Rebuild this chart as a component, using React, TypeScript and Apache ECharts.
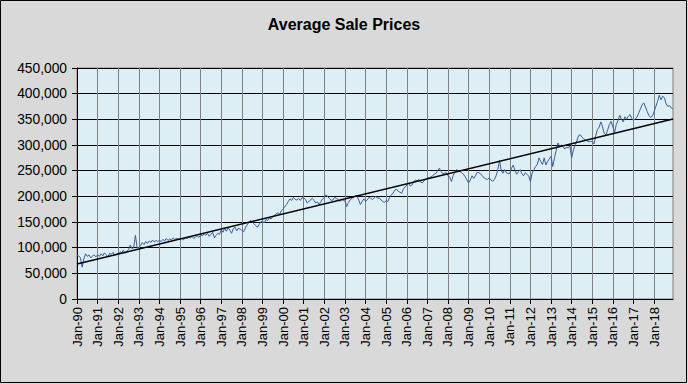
import React, { useEffect, useRef } from "react";
import * as echarts from "echarts";

const TITLE = "Average Sale Prices";
const MONTH_NAMES = ["Jan", "Feb", "Mar", "Apr", "May", "Jun", "Jul", "Aug", "Sep", "Oct", "Nov", "Dec"];
const START_YEAR = 1990;
const YEAR_COUNT = 29;

// Monthly average sale prices, in thousands
const prices1990s = [
  85, 84, 80, 62, 78, 88, 83, 86, 80, 84, 86, 82,
  86, 83, 88, 84, 90, 86, 82, 89, 87, 91, 85, 88,
  88, 92, 90, 95, 89, 93, 96, 105, 98, 100, 124, 100,
  100, 104, 110, 106, 112, 108, 113, 110, 115, 111, 114, 112,
  114, 112, 116, 113, 118, 114, 117, 115, 119, 116, 118, 117,
  116, 118, 115, 120, 117, 121, 119, 122, 118, 121, 123, 120,
  125, 123, 127, 124, 128, 122, 126, 130, 119, 124, 128, 126,
  135, 130, 138, 132, 139, 134, 128, 137, 140, 133, 138, 136,
  134, 131, 138, 144, 149, 153, 150, 147, 143, 140, 145, 150,
  152, 148, 155, 153, 158, 156, 160, 163, 166, 168, 165, 172,
];
const prices2000s = [
  175, 180, 184, 190, 195, 192, 198, 194, 193, 196, 192, 197,
  197, 194, 187, 190, 193, 196, 192, 187, 189, 184, 190, 195,
  198, 203, 199, 196, 192, 193, 198, 196, 194, 190, 195, 192,
  191, 180, 188, 193, 196, 198, 201, 201, 193, 184, 190, 195,
  190, 193, 198, 196, 194, 197, 200, 196, 197, 193, 190, 188,
  192, 190, 198, 203, 206, 212, 214, 210, 208, 206, 214, 218,
  222, 226, 220, 222, 228, 232, 230, 233, 228, 226, 230, 233,
  236, 236, 238, 240, 243, 245, 250, 255, 248, 244, 245, 246,
  240, 238, 229, 240, 248, 252, 250, 248, 246, 243, 238, 232,
  226, 232, 240, 235, 240, 247, 246, 244, 240, 236, 234, 233,
];
const prices2010s = [
  236, 232, 229, 233, 240, 252, 270, 250, 245, 252, 246, 244,
  245, 255, 261, 250, 243, 248, 252, 244, 240, 246, 243, 239,
  229, 245, 252, 258, 262, 275, 268, 262, 275, 261, 268, 273,
  278, 258, 275, 290, 304, 298, 300, 297, 292, 296, 294, 298,
  275, 290, 300, 308, 318, 320, 315, 312, 310, 308, 306, 307,
  307, 302, 318, 330, 335, 345, 335, 322, 320, 330, 340, 346,
  335, 325, 340, 348, 358, 350, 345, 355, 350, 356, 359, 352,
  348, 351, 354, 362, 370, 378, 382, 374, 365, 357, 354, 356,
  365, 375, 385, 397, 388, 395, 392, 380, 375, 377, 372, 370,
];

const TREND_START = 68000;
const TREND_END = 350500;

const Y_MIN = 0;
const Y_MAX = 450000;
const Y_STEP = 50000;

const FONT = "'Liberation Sans', Arial, sans-serif";

export default function App() {
  const ref = useRef<HTMLDivElement>(null);

  useEffect(() => {
    document.body.style.margin = "0";
    if (!ref.current) return;
    const chart = echarts.init(ref.current, null, { renderer: "svg" });

    const categories: string[] = [];
    for (let y = 0; y < YEAR_COUNT; y++) {
      for (let m = 0; m < 12; m++) {
        const yy = String((START_YEAR + y) % 100).padStart(2, "0");
        categories.push(`${MONTH_NAMES[m]}-${yy}`);
      }
    }
    const values = [...prices1990s, ...prices2000s, ...prices2010s].map((v) => v * 1000);

    chart.setOption({
      animation: false,
      backgroundColor: "#D9D9D9",
      title: {
        text: TITLE,
        left: "center",
        top: 11,
        textStyle: { fontFamily: FONT, fontSize: 16, fontWeight: "bold", color: "#000" },
      },
      graphic: [
        {
          type: "rect",
          shape: { x: 0.5, y: 0.5, width: 686, height: 382 },
          style: { fill: "none", stroke: "#000", lineWidth: 1 },
          silent: true,
        },
      ],
      grid: {
        left: 77,
        top: 68,
        width: 596,
        height: 231,
        show: true,
        backgroundColor: "#DDEEF5",
        borderColor: "#808080",
        borderWidth: 1,
      },
      xAxis: {
        type: "category",
        data: categories,
        boundaryGap: false,
        axisLine: { show: true, lineStyle: { color: "#000", width: 1 } },
        axisTick: { show: true, interval: 11, length: 5, lineStyle: { color: "#000" } },
        axisLabel: {
          interval: 11,
          rotate: 90,
          margin: 8,
          fontSize: 13,
          color: "#000",
          fontFamily: FONT,
        },
        splitLine: { show: true, interval: 11, lineStyle: { color: "#808080", width: 1 } },
      },
      yAxis: {
        type: "value",
        min: Y_MIN,
        max: Y_MAX,
        interval: Y_STEP,
        axisLine: { show: true, lineStyle: { color: "#000", width: 1 } },
        axisTick: { show: true, length: 5, lineStyle: { color: "#000" } },
        axisLabel: {
          margin: 10,
          fontSize: 13.8,
          color: "#000",
          fontFamily: FONT,
          formatter: (v: number) => v.toLocaleString("en-US"),
        },
        splitLine: { show: true, lineStyle: { color: "#000", width: 1 } },
      },
      series: [
        {
          type: "line",
          data: values,
          symbol: "none",
          lineStyle: { color: "#3C5D98", width: 1 },
          markLine: {
            silent: true,
            symbol: ["none", "none"],
            label: { show: false },
            lineStyle: { color: "#000", width: 1.5, type: "solid" },
            data: [
              [
                { coord: [categories[0], TREND_START] },
                { coord: [categories[categories.length - 1], TREND_END] },
              ],
            ],
          },
        },
      ],
    });

    return () => chart.dispose();
  }, []);

  return (
    <div
      ref={ref}
      style={{ position: "absolute", left: 0, top: 0, width: 688, height: 384 }}
    />
  );
}
